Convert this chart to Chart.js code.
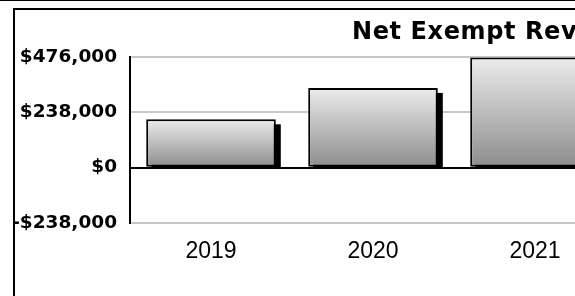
<!DOCTYPE html>
<html lang="en">
<head>
    <meta charset="UTF-8">
    <title>Net Exempt Revenue</title>
    <script src="https://cdn.jsdelivr.net/npm/chart.js"></script>
    <style>
        html, body {
            margin: 0;
            padding: 0;
            background: #fff;
            overflow: hidden;
            width: 575px;
            height: 296px;
        }
        .topline {
            position: absolute;
            left: 0; top: 0;
            width: 575px; height: 1px;
            background: #000;
        }
        .frame {
            position: absolute;
            left: 13px; top: 8px;
            width: 1000px; height: 1000px;
            border-left: 2px solid #000;
            border-top: 2px solid #000;
        }
        .chart-box {
            position: absolute;
            left: 0; top: 0;
            width: 616px; height: 296px;
        }
        .title {
            position: absolute;
            left: 352px; top: 19px;
            font: bold 24px 'DejaVu Sans', sans-serif;
            letter-spacing: 0.6px;
            line-height: 1;
            white-space: nowrap;
            color: #000;
        }
    </style>
</head>
<body>
    <div class="topline"></div>
    <div class="frame"></div>
    <div class="chart-box">
        <canvas id="revChart" width="616" height="296"></canvas>
    </div>
    <div class="title">Net Exempt Revenue</div>

    <script>
        // valeurs
        const annees = ['2019', '2020', '2021'];
        const revenus = [208000, 343000, 474000];
        const graduations = [-238000, 0, 238000, 476000];

        function formatDollar(v) {
            const s = '$' + Math.abs(v).toLocaleString('en-US');
            return v < 0 ? '-' + s : s;
        }

        // ombre noire decalee a droite / en bas des barres
        const ombrePlugin = {
            id: 'ombre',
            beforeDatasetsDraw(chart) {
                const ctx = chart.ctx;
                const meta = chart.getDatasetMeta(0);
                const zero = chart.scales.y.getPixelForValue(0);
                ctx.save();
                ctx.fillStyle = '#000';
                meta.data.forEach(bar => {
                    const h = zero - bar.y - 5;
                    if (h > 0) {
                        ctx.fillRect(bar.x - bar.width / 2 + 5, bar.y + 5, bar.width, h);
                    }
                });
                ctx.restore();
            }
        };

        const ctx = document.getElementById('revChart').getContext('2d');
        new Chart(ctx, {
            type: 'bar',
            data: {
                labels: annees,
                datasets: [{
                    data: revenus,
                    backgroundColor: function(c) {
                        const chart = c.chart;
                        if (!chart.chartArea) return '#bbb';
                        const y = chart.scales.y;
                        const haut = y.getPixelForValue(c.raw);
                        const bas = y.getPixelForValue(0);
                        const g = chart.ctx.createLinearGradient(0, haut, 0, bas);
                        g.addColorStop(0, '#ececec');
                        g.addColorStop(1, '#8c8c8c');
                        return g;
                    },
                    borderColor: '#000',
                    borderWidth: 2,
                    borderSkipped: false,
                    barPercentage: 0.8,
                    categoryPercentage: 1
                }]
            },
            options: {
                responsive: false,
                animation: false,
                layout: {
                    padding: { left: 12, top: 57, right: 0, bottom: 0 }
                },
                plugins: {
                    legend: { display: false },
                    tooltip: { enabled: false }
                },
                scales: {
                    x: {
                        grid: { display: false },
                        border: { display: false },
                        ticks: {
                            color: '#000',
                            padding: 7,
                            font: { family: "'Liberation Sans', Arial", size: 23 }
                        },
                        afterFit: s => { s.height = 73; }
                    },
                    y: {
                        min: -238000,
                        max: 476000,
                        afterBuildTicks: s => { s.ticks = graduations.map(v => ({ value: v })); },
                        grid: {
                            drawTicks: false,
                            lineWidth: 2,
                            color: c => (c.tick && c.tick.value === 0) ? '#000' : '#c8c8c8'
                        },
                        border: { display: true, color: '#000', width: 2 },
                        ticks: {
                            color: '#000',
                            padding: 13,
                            font: { family: "'DejaVu Sans'", size: 18.5, weight: 'bold' },
                            callback: v => formatDollar(v)
                        },
                        afterFit: s => { s.width = 118; }
                    }
                }
            },
            plugins: [ombrePlugin]
        });
    </script>
</body>
</html>
